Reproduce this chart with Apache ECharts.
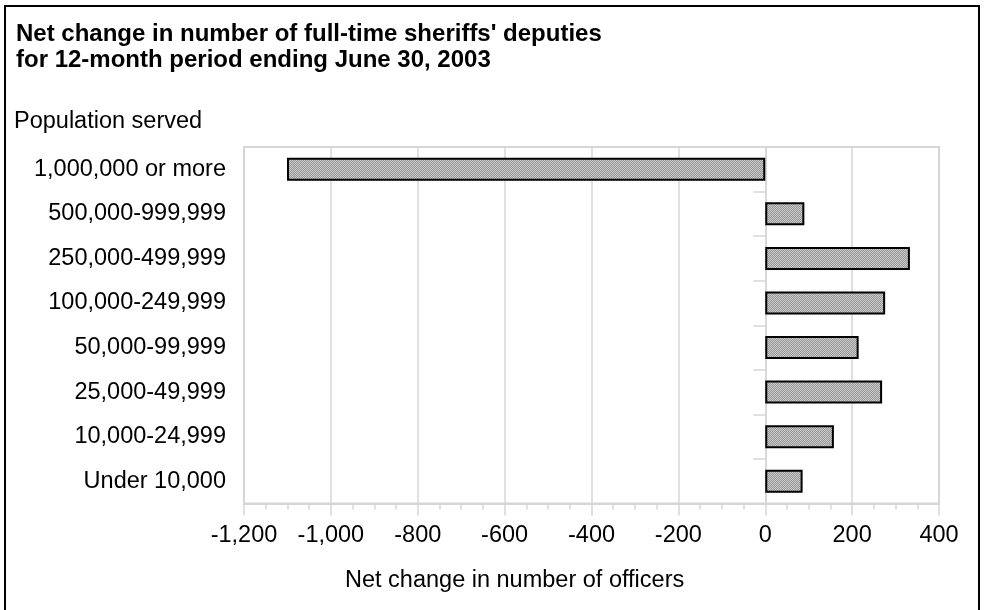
<!DOCTYPE html>
<html>
<head>
<meta charset="utf-8">
<script src="https://cdn.jsdelivr.net/npm/echarts@6/dist/echarts.min.js"></script>
<style>
  html, body { margin: 0; padding: 0; background: #fff; }
  #chart { width: 984px; height: 610px; }
</style>
</head>
<body>
<div id="chart"></div>
<script>
// ---- data ----
const categories = [
  "1,000,000 or more",
  "500,000-999,999",
  "250,000-499,999",
  "100,000-249,999",
  "50,000-99,999",
  "25,000-49,999",
  "10,000-24,999",
  "Under 10,000"
];
const netChange = [-1101, 90, 333, 276, 215, 269, 158, 86];
const titleLines = [
  "Net change in number of full-time sheriffs' deputies",
  "for 12-month period ending June 30, 2003"
];
const yAxisTitle = "Population served";
const xAxisTitle = "Net change in number of officers";
const xMin = -1200, xMax = 400, xStep = 200;

// ---- fill pattern (dithered gray) ----
function makePattern() {
  const c = document.createElement('canvas');
  c.width = 2; c.height = 2;
  const ctx = c.getContext('2d');
  ctx.fillStyle = '#979797'; ctx.fillRect(0, 0, 2, 2);
  ctx.fillStyle = '#cacaca';
  ctx.fillRect(0, 0, 1, 1);
  ctx.fillRect(1, 1, 1, 1);
  return c;
}

const FONT = "'Liberation Sans', Arial, Helvetica, sans-serif";
const FS = 23.5;
const GRID_COLOR = '#d6d6d6';

const chart = echarts.init(document.getElementById('chart'), null, { renderer: 'canvas' });
chart.setOption({
  animation: false,
  backgroundColor: '#fff',
  textStyle: { fontFamily: FONT },
  title: [
    {
      text: titleLines.join('\n'),
      left: 16, top: 21, padding: 0,
      textStyle: { fontFamily: FONT, fontSize: 24, fontWeight: 'bold', color: '#000', lineHeight: 26 }
    },
    {
      text: yAxisTitle,
      left: 14, top: 109, padding: 0,
      textStyle: { fontFamily: FONT, fontSize: FS, fontWeight: 'normal', color: '#000', lineHeight: 26 }
    },
    {
      text: xAxisTitle,
      left: 345, top: 568, padding: 0,
      textStyle: { fontFamily: FONT, fontSize: FS, fontWeight: 'normal', color: '#000', lineHeight: 26 }
    }
  ],
  graphic: [
    {
      type: 'rect', silent: true, z: 100,
      shape: { x: 5, y: 6, width: 974, height: 700 },
      style: { fill: 'none', stroke: '#000', lineWidth: 2 }
    }
  ],
  grid: {
    left: 244, right: 45, top: 147, bottom: 106.5,
    show: true, borderColor: GRID_COLOR, borderWidth: 2,
    containLabel: false, outerBoundsMode: 'none'
  },
  xAxis: {
    type: 'value',
    min: xMin, max: xMax, interval: xStep,
    position: 'bottom',
    axisLine: { show: true, onZero: false, lineStyle: { color: GRID_COLOR, width: 2 } },
    axisTick: { show: true, length: 12, lineStyle: { color: GRID_COLOR, width: 1.5 } },
    minorTick: { show: true, splitNumber: 4, length: 6, lineStyle: { color: GRID_COLOR, width: 1.5 } },
    splitLine: { show: true, lineStyle: { color: GRID_COLOR, width: 1.5 } },
    axisLabel: {
      fontFamily: FONT, fontSize: FS, color: '#000', margin: 20,
      formatter: v => v.toLocaleString('en-US')
    }
  },
  yAxis: [
    {
      type: 'category', data: categories, inverse: true,
      axisLine: { show: false, onZero: false },
      axisTick: { show: false },
      axisLabel: { fontFamily: FONT, fontSize: FS, color: '#000', margin: 18 }
    },
    {
      type: 'category', data: categories, inverse: true, position: 'left',
      axisLine: { show: true, onZero: true, onZeroAxisIndex: 0, lineStyle: { color: GRID_COLOR, width: 1.5 } },
      axisTick: { show: true, length: 12, inside: false, lineStyle: { color: GRID_COLOR, width: 1.5 } },
      axisLabel: { show: false },
      splitLine: { show: false }
    }
  ],
  series: [
    {
      type: 'bar',
      yAxisIndex: 0,
      data: netChange,
      barWidth: 23,
      itemStyle: {
        color: { image: makePattern(), repeat: 'repeat' },
        borderColor: '#000',
        borderWidth: 2
      }
    }
  ]
});
</script>
</body>
</html>
